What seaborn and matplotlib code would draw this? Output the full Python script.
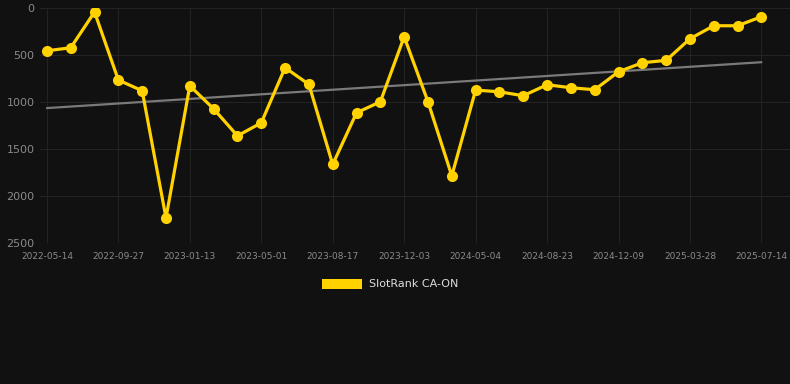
import numpy as np
import pandas as pd
import seaborn as sns
import matplotlib.pyplot as plt
from matplotlib.patches import Patch

# rank values, one point per snapshot (lower = better, axis inverted)
ranks = [460, 428, 48, 771, 885, 2236, 832, 1077, 1364, 1226,
         640, 817, 1668, 1119, 1002, 311, 1002, 1789, 878, 896,
         938, 821, 853, 874, 683, 587, 562, 332, 194, 194, 98]
tick_labels = ["2022-05-14", "2022-09-27", "2023-01-13", "2023-05-01",
               "2023-08-17", "2023-12-03", "2024-05-04", "2024-08-23",
               "2024-12-09", "2025-03-28", "2025-07-14"]
series_name = "SlotRank CA-ON"

df = pd.DataFrame({"idx": np.arange(len(ranks)), "rank": ranks})

bg = "#111111"
sns.set_style("dark")
plt.rcParams['font.family'] = ['DejaVu Sans']

fig = plt.figure(figsize=(7.9, 3.84), dpi=100, facecolor=bg)
ax = fig.add_axes([40 / 790, 1 - 242.7 / 384, 750 / 790, (242.7 - 7.5) / 384])
ax.set_facecolor(bg)

# trend line
sns.regplot(data=df, x="idx", y="rank", scatter=False, ci=None, ax=ax,
            line_kws={"color": "#7a7a7a", "linewidth": 1.6})
sns.lineplot(data=df, x="idx", y="rank", ax=ax, color="#FFD200",
             linewidth=2.3, marker="o", markersize=8, markeredgewidth=0)

ax.set_ylim(2500, 0)
ax.set_xlim(-0.29, 31.2)
ax.set_yticks([0, 500, 1000, 1500, 2000, 2500])
ax.set_xticks(df["idx"][::3])
ax.set_xticklabels(tick_labels)
ax.set_xlabel("")
ax.set_ylabel("")

ax.grid(True, color="#232323", linewidth=0.8)
ax.set_axisbelow(True)
for s in ax.spines.values():
    s.set_visible(False)
ax.tick_params(axis="y", colors="#8a8a8a", labelsize=8, length=0, pad=4)
ax.tick_params(axis="x", colors="#232323", labelcolor="#8a8a8a",
               labelsize=6.5, length=5, width=0.8, pad=2)

fig.legend(handles=[Patch(facecolor="#FFD200", edgecolor="none", label=series_name)],
           loc="center", bbox_to_anchor=(390 / 790, 1 - 284 / 384),
           frameon=False, fontsize=8, labelcolor="#dddddd",
           handlelength=3.6, handleheight=1.0, handletextpad=0.6)

fig.savefig("out.png", dpi=100, facecolor=bg)
